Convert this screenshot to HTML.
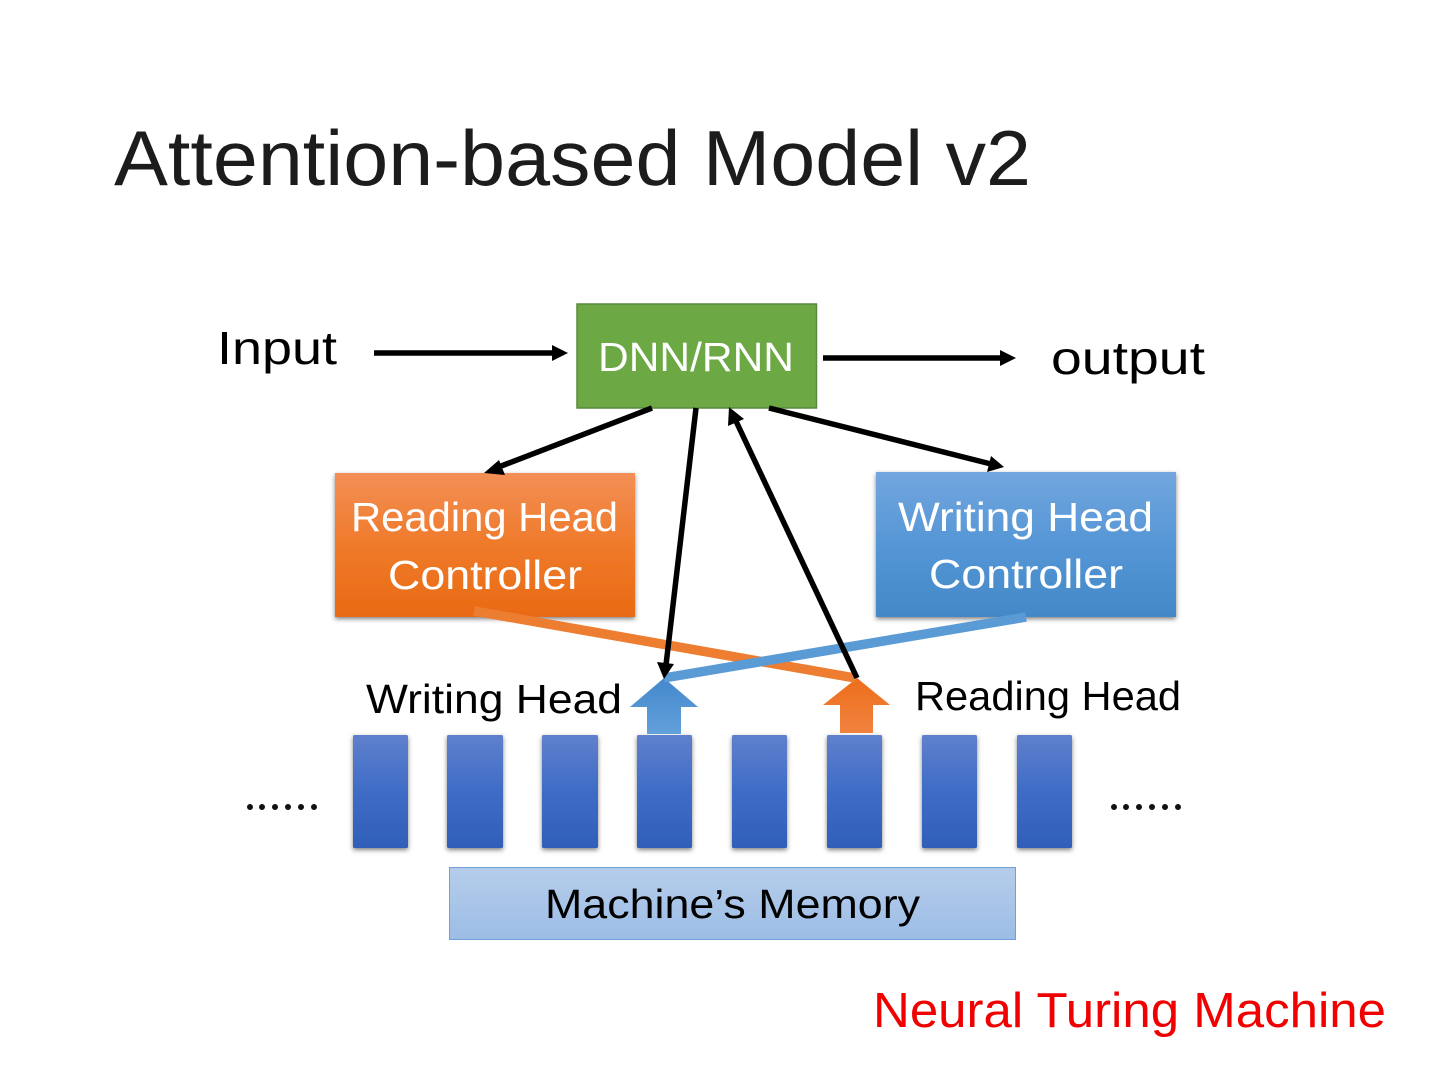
<!DOCTYPE html>
<html>
<head>
<meta charset="utf-8">
<style>
html,body{margin:0;padding:0;background:#fff;width:1440px;height:1080px;overflow:hidden}
svg{display:block}
text{font-family:"Liberation Sans",sans-serif}
</style>
</head>
<body>
<svg width="1440" height="1080" viewBox="0 0 1440 1080" xmlns="http://www.w3.org/2000/svg">
<defs>
<linearGradient id="o" x1="0" y1="0" x2="0" y2="1"><stop offset="0" stop-color="#f38f56"/><stop offset=".5" stop-color="#ef7a2a"/><stop offset="1" stop-color="#e96a14"/></linearGradient>
<linearGradient id="b" x1="0" y1="0" x2="0" y2="1"><stop offset="0" stop-color="#72a6de"/><stop offset=".5" stop-color="#5596d6"/><stop offset="1" stop-color="#4488c8"/></linearGradient>
<linearGradient id="m" x1="0" y1="0" x2="0" y2="1"><stop offset="0" stop-color="#5f80cc"/><stop offset=".5" stop-color="#3f6cc6"/><stop offset="1" stop-color="#2f5fb8"/></linearGradient>
<linearGradient id="mem" x1="0" y1="0" x2="0" y2="1"><stop offset="0" stop-color="#b5cdea"/><stop offset="1" stop-color="#9dbde6"/></linearGradient>
<linearGradient id="ba" x1="0" y1="0" x2="0" y2="1"><stop offset="0" stop-color="#4488cc"/><stop offset="1" stop-color="#62a0da"/></linearGradient>
<linearGradient id="oa" x1="0" y1="0" x2="0" y2="1"><stop offset="0" stop-color="#ee6e1a"/><stop offset="1" stop-color="#f08240"/></linearGradient>
<filter id="s" x="-20%" y="-20%" width="140%" height="140%"><feDropShadow dx="0" dy="2" stdDeviation="2.500" flood-color="#000" flood-opacity=".5"/></filter>
</defs>

<text x="114" y="185" font-size="78" fill="#1c1c1c" textLength="917" lengthAdjust="spacingAndGlyphs">Attention-based Model v2</text>

<text x="217" y="364" font-size="46" fill="#000" textLength="120" lengthAdjust="spacingAndGlyphs">Input</text>
<text x="1051" y="374" font-size="46" fill="#000" textLength="154" lengthAdjust="spacingAndGlyphs">output</text>

<rect x="577" y="304" width="239.500" height="104" fill="#6ca945" stroke="#5a8a3a" stroke-width="1.500"/>
<text x="598" y="371" font-size="41" fill="#fff" textLength="196" lengthAdjust="spacingAndGlyphs">DNN/RNN</text>

<rect x="335" y="473" width="300" height="144" fill="url(#o)" filter="url(#s)"/>
<text x="351" y="531" font-size="41" fill="#fff" textLength="267" lengthAdjust="spacingAndGlyphs">Reading Head</text>
<text x="388" y="589" font-size="41" fill="#fff" textLength="194" lengthAdjust="spacingAndGlyphs">Controller</text>

<rect x="876" y="472" width="300" height="145" fill="url(#b)" filter="url(#s)"/>
<text x="898" y="531" font-size="41" fill="#fff" textLength="255" lengthAdjust="spacingAndGlyphs">Writing Head</text>
<text x="929" y="588" font-size="41" fill="#fff" textLength="194" lengthAdjust="spacingAndGlyphs">Controller</text>

<g fill="url(#m)" filter="url(#s)">
<rect x="353" y="735" width="55" height="113" rx="1.500"/>
<rect x="447" y="735" width="56" height="113" rx="1.500"/>
<rect x="542" y="735" width="56" height="113" rx="1.500"/>
<rect x="637" y="735" width="55" height="113" rx="1.500"/>
<rect x="732" y="735" width="55" height="113" rx="1.500"/>
<rect x="827" y="735" width="55" height="113" rx="1.500"/>
<rect x="922" y="735" width="55" height="113" rx="1.500"/>
<rect x="1017" y="735" width="55" height="113" rx="1.500"/>
</g>

<polygon points="664,678 698,707 681,707 681,734 647,734 647,707 630,707" fill="url(#ba)"/>
<polygon points="857,678 890,705 873,705 873,733 840,733 840,705 823,705" fill="url(#oa)"/>

<line x1="474" y1="611" x2="855" y2="678" stroke="#ed7d31" stroke-width="9.500"/>
<line x1="1026" y1="617" x2="664" y2="678" stroke="#5b9bd5" stroke-width="9.500"/>

<rect x="449.500" y="867.500" width="566" height="72" fill="url(#mem)" stroke="#6fa0d8" stroke-width="1"/>
<text x="545" y="918" font-size="41" fill="#000" textLength="375" lengthAdjust="spacingAndGlyphs">Machine’s Memory</text>

<text x="366" y="713" font-size="41" fill="#000" textLength="256" lengthAdjust="spacingAndGlyphs">Writing Head</text>
<text x="915" y="710" font-size="41" fill="#000" textLength="266" lengthAdjust="spacingAndGlyphs">Reading Head</text>

<g fill="#111">
<circle cx="250" cy="807" r="3"/><circle cx="262" cy="807" r="3"/><circle cx="275" cy="807" r="3"/><circle cx="288" cy="807" r="3"/><circle cx="301" cy="807" r="3"/><circle cx="314" cy="807" r="3"/>
<circle cx="1114" cy="807" r="3"/><circle cx="1126" cy="807" r="3"/><circle cx="1139" cy="807" r="3"/><circle cx="1152" cy="807" r="3"/><circle cx="1165" cy="807" r="3"/><circle cx="1178" cy="807" r="3"/>
</g>
<text x="873" y="1027" font-size="49" fill="#f00000" textLength="513" lengthAdjust="spacingAndGlyphs">Neural Turing Machine</text>

<g stroke="#000" stroke-width="5.500" fill="none">
<line x1="374" y1="353" x2="555" y2="353"/>
<line x1="823" y1="358" x2="1003" y2="358"/>
<line x1="652" y1="408" x2="496" y2="468"/>
<line x1="696" y1="408" x2="666" y2="665"/>
<line x1="857" y1="678" x2="735" y2="419"/>
<line x1="769" y1="408" x2="991" y2="464"/>
</g>
<g fill="#000">
<polygon points="568,353 552,345 552,361"/>
<polygon points="1016,358 1000,350 1000,366"/>
<polygon points="484,473 499,460 505,475"/>
<polygon points="664,679 657,662 674,664"/>
<polygon points="729,407 744,419 728,426"/>
<polygon points="1004,467 987,472 991,456"/>
</g>
</svg>
</body>
</html>
